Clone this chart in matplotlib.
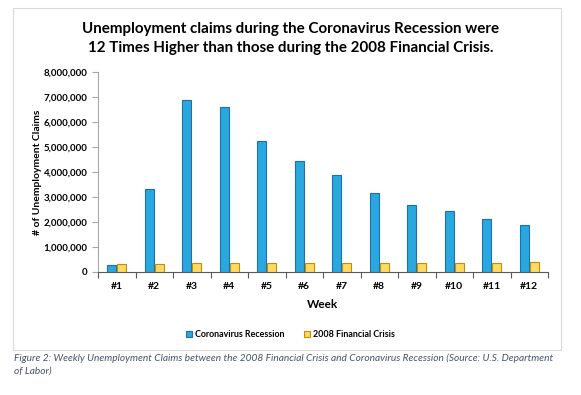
import numpy as np
import matplotlib
matplotlib.use("Agg")
import matplotlib.pyplot as plt
from matplotlib.patches import Rectangle
from matplotlib.ticker import FuncFormatter, MultipleLocator

weeks = ["#1", "#2", "#3", "#4", "#5", "#6", "#7", "#8", "#9", "#10", "#11", "#12"]
covid_claims = [282000, 3307000, 6867000, 6615000, 5237000, 4442000,
                3867000, 3176000, 2687000, 2446000, 2126000, 1897000]
crisis_claims = [320000, 322000, 365000, 350000, 345000, 340000,
                 355000, 345000, 345000, 355000, 355000, 390000]

title = ("Unemployment claims during the Coronavirus Recession were\n"
         "12 Times Higher than those during the 2008 Financial Crisis.")
caption = ("Figure 2: Weekly Unemployment Claims between the 2008 Financial Crisis "
           "and Coronavirus Recession (Source: U.S. Department\nof Labor)")

plt.rcParams["font.family"] = ["Lato", "DejaVu Sans"]

fig = plt.figure(figsize=(5.81, 3.95), dpi=100)
fig.patches.append(Rectangle((0.0224, 0.1139), 0.9432, 0.8658,
                             transform=fig.transFigure, fill=False,
                             edgecolor="#d9d9d9", lw=0.8))

ax = fig.add_axes([0.1687, 0.3114, 0.7745, 0.5063])
x = np.arange(len(weeks))
w = 0.24
ax.bar(x - 0.135, covid_claims, w, color="#29a8e0", edgecolor="#1f6fb0",
       lw=0.8, label="Coronavirus Recession", zorder=3)
ax.bar(x + 0.135, crisis_claims, w, color="#ffd966", edgecolor="#bf9000",
       lw=0.8, label="2008 Financial Crisis", zorder=3)

ax.set_xlim(-0.5, len(weeks) - 0.5)
ax.set_ylim(0, 8000000)
ax.yaxis.set_major_locator(MultipleLocator(1000000))
ax.yaxis.set_major_formatter(FuncFormatter(lambda v, p: f"{int(v):,}"))
ax.set_xticks(x)
ax.set_xticklabels(weeks, fontsize=7.5, fontweight="bold")
ax.set_xticks(np.arange(-0.5, len(weeks)), minor=True)
ax.tick_params(axis="x", which="major", length=0, pad=7)
ax.tick_params(axis="x", which="minor", length=4, color="#595959", width=0.8)
ax.tick_params(axis="y", labelsize=7, length=4, color="#a6a6a6", width=0.8)
for lab in ax.get_yticklabels():
    lab.set_fontweight("bold")

for s in ["top", "right"]:
    ax.spines[s].set_visible(False)
ax.spines["left"].set_color("#a6a6a6")
ax.spines["bottom"].set_color("#595959")
ax.spines["left"].set_linewidth(0.8)
ax.spines["bottom"].set_linewidth(0.8)

ax.set_ylabel("# of Unemployment Claims", fontsize=7.5, fontweight="bold")
ax.yaxis.set_label_coords(-0.125, 0.5)
ax.set_xlabel("Week", fontsize=8.5, fontweight="bold", labelpad=6)

fig.text(0.5, 0.903, title, ha="center", va="center", fontsize=10.9,
         fontweight="bold", linespacing=1.4)

fig.legend(loc="center", bbox_to_anchor=(0.5, 0.152), ncol=2, frameon=False,
           prop={"size": 6.4, "weight": "bold"}, handlelength=0.7,
           handleheight=0.7, handletextpad=0.3, columnspacing=2.2)

fig.text(0.024, 0.104, caption, ha="left", va="top", fontsize=7.3,
         style="italic", color="#44546a", linespacing=1.45)

fig.savefig("out.png", dpi=100)
